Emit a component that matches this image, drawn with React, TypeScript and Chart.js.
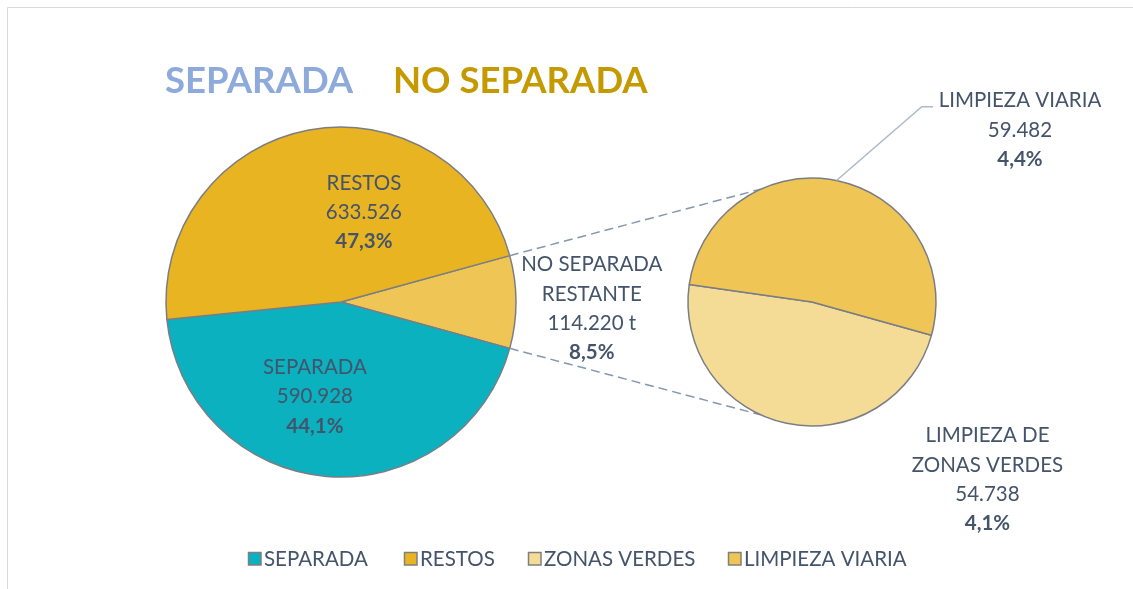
import React, { useEffect, useRef } from "react";
import { Chart, registerables } from "chart.js";

Chart.register(...registerables);

// ---------- data ----------
const mainLabels = ["NO SEPARADA RESTANTE", "SEPARADA", "RESTOS"];
const mainLabelLines = [["NO SEPARADA", "RESTANTE"], ["SEPARADA"], ["RESTOS"]];
const mainValues = [114220, 590928, 633526];
const mainColors = ["#EFC555", "#0BB1BF", "#E9B421"];

const subLabels = ["ZONAS VERDES", "LIMPIEZA VIARIA"];
const subLabelLines = [["LIMPIEZA DE", "ZONAS VERDES"], ["LIMPIEZA VIARIA"]];
const subValues = [54738, 59482];
const subColors = ["#F4DC96", "#EFC555"];

const legendLabels = ["SEPARADA", "RESTOS", "ZONAS VERDES", "LIMPIEZA VIARIA"];
const legendColors = ["#0BB1BF", "#E9B421", "#F4DC96", "#EFC555"];

const titleParts = ["SEPARADA", "NO SEPARADA"];
const titleColors = ["#8EAADB", "#C49A00"];

// ---------- helpers ----------
const TEXT = "#44546A";
const FONT = "Lato, 'Open Sans', sans-serif";
const W = 1133;
const H = 589;
const total = mainValues.reduce((a, b) => a + b, 0);

function fmtThousands(v: number) {
  return String(Math.round(v)).replace(/\B(?=(\d{3})+(?!\d))/g, ".");
}
function fmtPct(v: number) {
  return (v / total * 100).toFixed(1).replace(".", ",") + "%";
}

type Line = { t: string; bold?: boolean };

function drawBlock(ctx: CanvasRenderingContext2D, lines: Line[], cx: number, cy: number, size: number, lh: number) {
  const n = lines.length;
  const top = cy - ((n - 1) * lh) / 2;
  ctx.save();
  ctx.textAlign = "center";
  ctx.textBaseline = "alphabetic";
  ctx.fillStyle = TEXT;
  lines.forEach((l, i) => {
    ctx.font = `${l.bold ? "bold " : ""}${size}px ${FONT}`;
    ctx.fillText(l.t, cx, top + i * lh + size * 0.36);
  });
  ctx.restore();
}

// label block centers relative to pie center, in units of radius
const mainLabelPos = [
  [1.433, 0.034],
  [-0.149, 0.537],
  [0.131, -0.517],
];
const subLabelPos = [
  [1.415, 1.427],
  [1.677, -1.393],
];
const legendX = [248, 404, 528, 728];

export default function App() {
  const mainRef = useRef<HTMLCanvasElement | null>(null);
  const subRef = useRef<HTMLCanvasElement | null>(null);

  useEffect(() => {
    if (!mainRef.current || !subRef.current) return;

    const mainPlugin = {
      id: "mainDecor",
      beforeDraw(chart: any) {
        const ctx = chart.ctx as CanvasRenderingContext2D;
        ctx.save();
        ctx.strokeStyle = "#D9D9D9";
        ctx.lineWidth = 1;
        ctx.beginPath();
        ctx.moveTo(7.5, H);
        ctx.lineTo(7.5, 7.5);
        ctx.lineTo(W, 7.5);
        ctx.stroke();
        ctx.restore();
      },
      afterDraw(chart: any) {
        const ctx = chart.ctx as CanvasRenderingContext2D;
        const meta = chart.getDatasetMeta(0);
        const a0 = meta.data[0].getProps(["x", "y", "outerRadius"], true);
        const cx = a0.x, cy = a0.y, r = a0.outerRadius;

        // titles
        ctx.save();
        ctx.font = `bold 36.5px ${FONT}`;
        ctx.textBaseline = "alphabetic";
        ctx.textAlign = "left";
        const titleX = [165, 393];
        titleParts.forEach((t, i) => {
          ctx.fillStyle = titleColors[i];
          ctx.fillText(t, titleX[i], 93);
        });
        ctx.restore();

        // data labels
        mainValues.forEach((v, i) => {
          const lines: Line[] = mainLabelLines[i].map((t) => ({ t }));
          lines.push({ t: fmtThousands(v) + (i === 0 ? " t" : "") });
          lines.push({ t: fmtPct(v), bold: true });
          drawBlock(ctx, lines, cx + mainLabelPos[i][0] * r, cy + mainLabelPos[i][1] * r, 20.5, 29.3);
        });

        // legend
        ctx.save();
        ctx.font = `20.5px ${FONT}`;
        ctx.textBaseline = "alphabetic";
        ctx.textAlign = "left";
        legendLabels.forEach((t, i) => {
          const lx = legendX[i];
          ctx.fillStyle = legendColors[i];
          ctx.fillRect(lx, 552, 13, 13);
          ctx.strokeStyle = "#7F7F7F";
          ctx.lineWidth = 1.5;
          ctx.strokeRect(lx + 0.5, 552.5, 12.5, 12.5);
          ctx.fillStyle = TEXT;
          ctx.fillText(t, lx + 16, 566);
        });
        ctx.restore();
      },
    };

    const mainChart = new Chart(mainRef.current, {
      type: "pie",
      data: {
        labels: mainLabels,
        datasets: [
          {
            data: mainValues,
            backgroundColor: mainColors,
            borderColor: "#7A7E84",
            borderWidth: 1.5,
          },
        ],
      },
      options: {
        responsive: false,
        animation: false,
        rotation: 90 - (mainValues[0] / total) * 180,
        radius: 175,
        layout: { padding: { left: 141, right: W - 541, top: 102, bottom: H - 502 } },
        plugins: { legend: { display: false }, tooltip: { enabled: false }, title: { display: false } },
        events: [],
      },
      plugins: [mainPlugin],
    } as any);

    const subPlugin = {
      id: "subDecor",
      beforeDatasetsDraw(chart: any) {
        const ctx = chart.ctx as CanvasRenderingContext2D;
        const other = mainChart.getDatasetMeta(0).data[0] as any;
        const o = other.getProps(["x", "y", "outerRadius", "startAngle", "endAngle"], true);
        const s = chart.getDatasetMeta(0).data[0].getProps(["x", "y", "outerRadius"], true);
        const p1 = [o.x + o.outerRadius * Math.cos(o.startAngle), o.y + o.outerRadius * Math.sin(o.startAngle)];
        const p2 = [o.x + o.outerRadius * Math.cos(o.endAngle), o.y + o.outerRadius * Math.sin(o.endAngle)];
        const a1 = (-114.5 * Math.PI) / 180;
        const a2 = (114.5 * Math.PI) / 180;
        const q1 = [s.x + s.outerRadius * Math.cos(a1), s.y + s.outerRadius * Math.sin(a1)];
        const q2 = [s.x + s.outerRadius * Math.cos(a2), s.y + s.outerRadius * Math.sin(a2)];
        ctx.save();
        ctx.strokeStyle = "#8497B0";
        ctx.lineWidth = 1.5;
        ctx.setLineDash([9, 5]);
        ctx.beginPath();
        ctx.moveTo(p1[0], p1[1]);
        ctx.lineTo(q1[0], q1[1]);
        ctx.moveTo(p2[0], p2[1]);
        ctx.lineTo(q2[0], q2[1]);
        ctx.stroke();
        ctx.restore();
      },
      afterDraw(chart: any) {
        const ctx = chart.ctx as CanvasRenderingContext2D;
        const s = chart.getDatasetMeta(0).data[0].getProps(["x", "y", "outerRadius"], true);
        const cx = s.x, cy = s.y, r = s.outerRadius;

        // leader line for LIMPIEZA VIARIA
        const la = (-78.6 * Math.PI) / 180;
        ctx.save();
        ctx.strokeStyle = "#ADB9CA";
        ctx.lineWidth = 1.5;
        ctx.beginPath();
        ctx.moveTo(cx + r * Math.cos(la), cy + r * Math.sin(la));
        ctx.lineTo(cx + 0.885 * r, cy - 1.575 * r);
        ctx.lineTo(cx + 0.976 * r, cy - 1.575 * r);
        ctx.stroke();
        ctx.restore();

        subValues.forEach((v, i) => {
          const lines: Line[] = subLabelLines[i].map((t) => ({ t }));
          lines.push({ t: fmtThousands(v) });
          lines.push({ t: fmtPct(v), bold: true });
          drawBlock(ctx, lines, cx + subLabelPos[i][0] * r, cy + subLabelPos[i][1] * r, 20.5, 29.3);
        });
      },
    };

    const subChart = new Chart(subRef.current, {
      type: "pie",
      data: {
        labels: subLabels,
        datasets: [
          {
            data: subValues,
            backgroundColor: subColors,
            borderColor: "#7A7E84",
            borderWidth: 1.5,
          },
        ],
      },
      options: {
        responsive: false,
        animation: false,
        rotation: 105.6,
        radius: 124,
        layout: { padding: { left: 662, right: W - 962, top: 152, bottom: H - 452 } },
        plugins: { legend: { display: false }, tooltip: { enabled: false }, title: { display: false } },
        events: [],
      },
      plugins: [subPlugin],
    } as any);

    return () => {
      subChart.destroy();
      mainChart.destroy();
    };
  }, []);

  return (
    <div style={{ position: "fixed", left: 0, top: 0, width: W, height: H, background: "#fff", overflow: "hidden" }}>
      <canvas ref={mainRef} width={W} height={H} style={{ position: "absolute", left: 0, top: 0 }} />
      <canvas ref={subRef} width={W} height={H} style={{ position: "absolute", left: 0, top: 0 }} />
    </div>
  );
}
